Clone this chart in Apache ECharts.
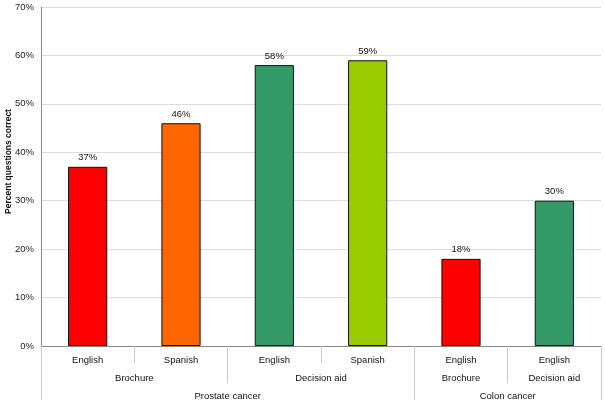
<!DOCTYPE html>
<html>
<head>
<meta charset="utf-8">
<script src="https://cdn.jsdelivr.net/npm/echarts@6/dist/echarts.min.js"></script>
<style>
  html, body { margin: 0; padding: 0; background: #fff; }
  #chart { width: 605px; height: 404px; }
</style>
</head>
<body>
<div id="chart"></div>
<script>
// level 1 categories (one per bar)
var languages = ['English', 'Spanish', 'English', 'Spanish', 'English', 'English'];
var percentCorrect = [37, 46, 58, 59, 18, 30];
var barColors = ['#ff0000', '#ff6600', '#339966', '#99cc00', '#ff0000', '#339966'];
// level 2 groups
var materials = ['Brochure', 'Decision aid', 'Brochure', 'Decision aid'];
var materialSpans = [2, 2, 1, 1];
// level 3 groups
var cancers = ['Prostate cancer', 'Colon cancer'];
var cancerSpans = [4, 2];
var yTicks = [0, 10, 20, 30, 40, 50, 60, 70];

var font = 'Liberation Sans, Arial, sans-serif';
var fs = 9.5;

// turn group spans into boundaries and label centres
function groupAxis(names, spans) {
    var bounds = [0], centres = [], labels = {};
    var pos = 0;
    for (var i = 0; i < spans.length; i++) {
        var c = pos + spans[i] / 2;
        centres.push(c);
        labels[c] = names[i];
        pos += spans[i];
        bounds.push(pos);
    }
    return { bounds: bounds, centres: centres, labels: labels };
}
var lvl2 = groupAxis(materials, materialSpans);
var lvl3 = groupAxis(cancers, cancerSpans);

function groupXAxis(g, tickLen, margin) {
    return {
        type: 'value',
        position: 'bottom',
        min: 0,
        max: languages.length,
        axisLine: { show: false },
        splitLine: { show: false },
        axisTick: {
            show: true,
            customValues: g.bounds,
            length: tickLen,
            lineStyle: { color: '#c8c8c8' }
        },
        axisLabel: {
            customValues: g.centres,
            margin: margin,
            fontSize: fs,
            fontFamily: font,
            color: '#111',
            formatter: function (v) { return g.labels[v] || ''; }
        }
    };
}

var myChart = echarts.init(document.getElementById('chart'));
var option = {
    backgroundColor: '#fff',
    animation: false,
    grid: { left: 41, right: 4, top: 7, bottom: 58, containLabel: false, outerBoundsMode: 'none' },
    xAxis: [
        {
            type: 'category',
            data: languages,
            position: 'bottom',
            axisLine: { lineStyle: { color: '#888', width: 1 } },
            axisTick: { show: true, length: 17, lineStyle: { color: '#c8c8c8' } },
            axisLabel: { margin: 9, fontSize: fs, fontFamily: font, color: '#111' }
        },
        groupXAxis(lvl2, 37, 27),
        groupXAxis(lvl3, 54, 45)
    ],
    yAxis: {
        type: 'value',
        min: yTicks[0],
        max: yTicks[yTicks.length - 1],
        interval: 10,
        name: 'Percent questions correct',
        nameLocation: 'middle',
        nameGap: 28,
        nameMoveOverlap: false,
        nameTextStyle: {
            fontSize: 8.5, fontWeight: 'bold', fontFamily: font, color: '#111',
            padding: [0, 0, 0, 30]
        },
        axisLine: { show: true, lineStyle: { color: '#888' } },
        axisTick: { show: false },
        axisLabel: { formatter: '{value}%', margin: 7, fontSize: fs, fontFamily: font, color: '#222' },
        splitLine: { lineStyle: { color: '#dcdcdc' } }
    },
    series: [{
        type: 'bar',
        xAxisIndex: 0,
        barWidth: '42%',
        data: percentCorrect.map(function (v, i) {
            return { value: v, itemStyle: { color: barColors[i] } };
        }),
        itemStyle: { borderColor: '#111', borderWidth: 1 },
        label: {
            show: true,
            position: 'top',
            distance: 4,
            formatter: '{c}%',
            fontSize: fs,
            fontFamily: font,
            color: '#111'
        }
    }]
};
myChart.setOption(option);
</script>
</body>
</html>
